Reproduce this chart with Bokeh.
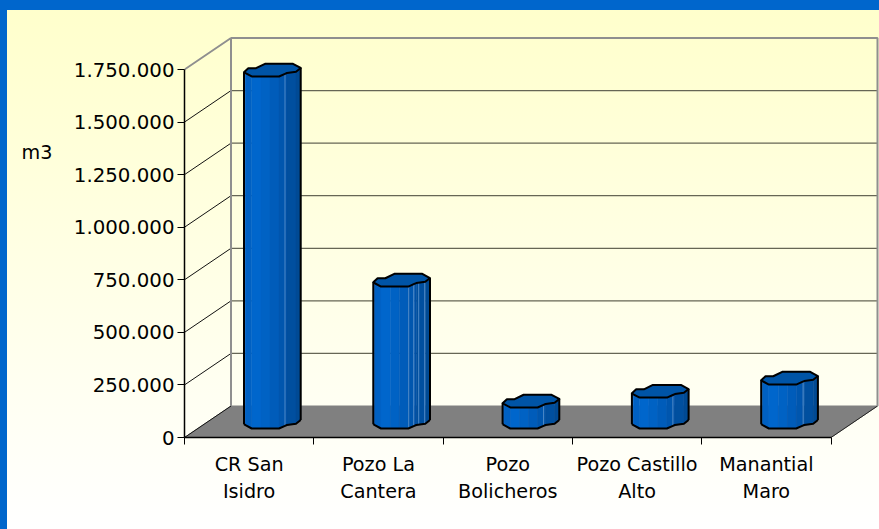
from bokeh.plotting import figure
from bokeh.models import Range1d, LinearAxis, FixedTicker
from bokeh.embed import file_html
from bokeh.resources import INLINE

categories = ["CR San\nIsidro", "Pozo La\nCantera", "Pozo\nBolicheros", "Pozo Castillo\nAlto", "Manantial\nMaro"]
values = [1674000, 675000, 100000, 147000, 209000]
y_ticks = [0, 250000, 500000, 750000, 1000000, 1250000, 1500000, 1750000]
y_labels = ["0", "250.000", "500.000", "750.000", "1.000.000", "1.250.000", "1.500.000", "1.750.000"]
y_title = "m3"
facet_lines = [[41], [35.4, 40.4, 45.4, 51.4], [41], [41], [42]]

FONT = "DejaVu Sans"
FS_Y = "19.8px"
FS_X = "19.2px"
PX = 1 / 129.3
PY = 1750000 / 368
W, H = 879, 529
LEFT, BOTTOM = 184, 92
DX, DY = 46.5 * PX, 31.5 * PY
BAR_OFF = 59.5 * PX
BASE = 9 * PY

p = figure(width=W, height=H, output_backend="svg", toolbar_location=None,
           x_range=Range1d(0, (W - LEFT) * PX), y_range=Range1d(0, (H - BOTTOM) * PY),
           x_axis_type=None, y_axis_type=None,
           min_border_left=LEFT, min_border_right=0, min_border_top=0, min_border_bottom=BOTTOM,
           background_fill_color=None, border_fill_color=None, outline_line_color=None)
p.grid.visible = False
p.styles = {"background": "linear-gradient(to right,#0066CC 7px,transparent 7px),"
                          "linear-gradient(to bottom,#0066CC 10px,#FFFFCC 10px,#FFFFFF 529px)"}

n = len(categories)
top = y_ticks[-1]

# floor
p.patch([0, n, n + DX, DX], [0, 0, DY, DY], fill_color="#808080", line_color="#808080", line_width=1)
p.line([n, n + DX], [0, DY], line_color="#222222", line_width=1)

# back wall grid and left wall diagonals
grid = y_ticks[1:-1]
p.segment([DX] * len(grid), [v + DY for v in grid], [n + DX] * len(grid), [v + DY for v in grid],
          line_color="#666655", line_width=1.2)
p.segment([0] * (len(y_ticks) - 1), y_ticks[:-1], [DX] * (len(y_ticks) - 1), [v + DY for v in y_ticks[:-1]],
          line_color="#111111", line_width=1)
wall = "#8F8F8F"
p.line([0, DX, DX], [top, top + DY, DY], line_color=wall, line_width=2)
p.line([DX, n + DX, n + DX], [top + DY, top + DY, DY], line_color=wall, line_width=2)

# octagonal prisms: visible front profile and back of the footprint, in pixels
front = [(0, 4.3), (1.5, 3.3), (7.7, 0), (17, 0), (26, 0), (35, 0), (41, 2.6), (43, 3.5), (52, 4.8), (56.7, 8.5)]
colors = ["#1A73D0", "#0060C2", "#0066CC", "#0062C4", "#005CBA", "#0056AE", "#0053A8", "#004F9F", "#004A94"]
back = [(49, 12.7), (21, 12.7), (12, 8.3), (4.3, 8.3)]
ACCENT = "#4F8AC8"

for i, v in enumerate(values):
    x0 = i + BAR_OFF
    xs_, ys_, cs_ = [], [], []
    for (u0, v0), (u1, v1), c in zip(front[:-1], front[1:], colors):
        xs_.append([x0 + u0 * PX, x0 + u1 * PX, x0 + u1 * PX, x0 + u0 * PX])
        ys_.append([BASE + v0 * PY, BASE + v1 * PY, BASE + v1 * PY + v, BASE + v0 * PY + v])
        cs_.append(c)
    p.patches(xs_, ys_, fill_color=cs_, line_color=cs_, line_width=0.5)
    for u in facet_lines[i]:
        w = 0
        for (u0, v0), (u1, v1) in zip(front[:-1], front[1:]):
            if u0 <= u <= u1:
                w = v0 + (v1 - v0) * (u - u0) / (u1 - u0)
        p.line([x0 + u * PX] * 2, [BASE + w * PY, BASE + w * PY + v], line_color=ACCENT, line_width=1)
    ring = front + back
    p.patch([x0 + a * PX for a, _ in ring], [BASE + b * PY + v for _, b in ring],
            fill_color="#0054A6", line_color="black", line_width=2, line_join="round")
    p.line([x0 + a * PX for a, _ in front], [BASE + b * PY for _, b in front],
           line_color="black", line_width=2, line_join="round")
    for u, w in (front[0], front[-1]):
        p.line([x0 + u * PX] * 2, [BASE + w * PY, BASE + w * PY + v], line_color="black", line_width=2)

# axes
yax = LinearAxis(ticker=FixedTicker(ticks=y_ticks), bounds=(0, top),
                 major_label_overrides=dict(zip(y_ticks, y_labels)),
                 major_tick_out=7, major_tick_in=0, minor_tick_line_color=None,
                 axis_line_color="black", axis_line_width=1.5, major_tick_line_color="black",
                 major_tick_line_width=1, major_label_standoff=3,
                 major_label_text_font=FONT, major_label_text_font_size=FS_Y, major_label_text_color="black")
p.add_layout(yax, "left")

# the unit title sits beside the scale, level with a point between two ticks
title_at = 285 * PY
tax = LinearAxis(ticker=FixedTicker(ticks=[title_at]),
                 major_label_overrides={title_at: y_title},
                 axis_line_color=None, major_tick_line_color=None, minor_tick_line_color=None,
                 major_tick_out=0, major_tick_in=0, major_label_standoff=18,
                 major_label_text_font=FONT, major_label_text_font_size=FS_X, major_label_text_color="black")
p.add_layout(tax, "left")

centers = [i + 0.5 for i in range(n)]
xax = LinearAxis(ticker=FixedTicker(ticks=centers, minor_ticks=list(range(n + 1))), bounds=(0, n),
                 major_label_overrides=dict(zip(centers, categories)),
                 major_tick_out=0, major_tick_in=0, major_tick_line_color=None,
                 minor_tick_out=7, minor_tick_in=0, minor_tick_line_color="black", minor_tick_line_width=1,
                 axis_line_color="black", axis_line_width=1.5, major_label_standoff=8,
                 major_label_text_font=FONT, major_label_text_font_size=FS_X, major_label_text_color="black",
                 major_label_text_line_height=1.2)
p.add_layout(xax, "below")

html = file_html(p, INLINE).replace("</head>", "<style>html,body{margin:0;overflow:hidden}</style></head>")
open("out.html", "w").write(html)
